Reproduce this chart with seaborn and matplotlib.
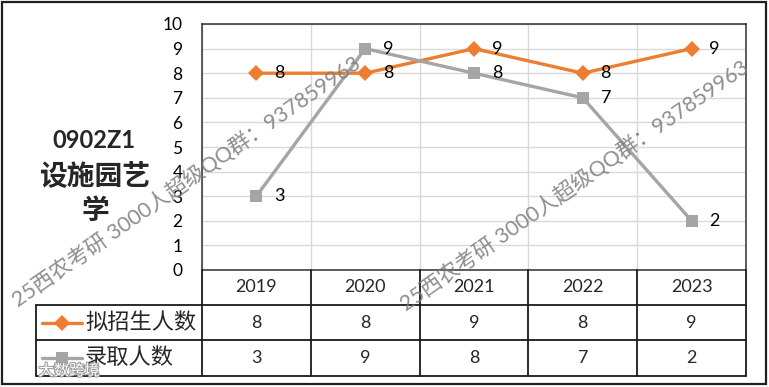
import numpy as np
import pandas as pd
import matplotlib
matplotlib.use('Agg')
import matplotlib.pyplot as plt
import seaborn as sns
from matplotlib.lines import Line2D
from matplotlib.patches import Rectangle
from matplotlib import transforms
import matplotlib.patheffects as pe

years = ['2019', '2020', '2021', '2022', '2023']
plan = [8, 8, 9, 8, 9]
admit = [3, 9, 8, 7, 2]
series_names = ['拟招生人数', '录取人数']
title_lines = ['0902Z1', '设施园艺', '学']
y_ticks = list(range(0, 11))
watermark = '25西农考研 3000人超级QQ群：937859963'
corner_mark = '大数跨境'

sns.set_theme(style='white')
plt.rcParams['font.family'] = ['Lato', 'Noto Sans CJK SC', 'DejaVu Sans']

W, H = 769, 387
fig = plt.figure(figsize=(W / 100, H / 100), dpi=100)
fig.patch.set_facecolor('white')


def fx(x):
    return x / W


def fy(y):
    return 1 - y / H


L, R, T, B = 202, 746, 24, 270
ax = fig.add_axes([fx(L), fy(B), fx(R) - fx(L), fy(T) - fy(B)])

df = pd.DataFrame({
    'pos': list(range(len(years))) * 2,
    'value': plan + admit,
    'series': [series_names[0]] * len(years) + [series_names[1]] * len(years),
})
colors = {series_names[0]: '#ED7D31', series_names[1]: '#A5A5A5'}
markers = {series_names[0]: 'D', series_names[1]: 's'}
sns.lineplot(data=df, x='pos', y='value', hue='series', style='series',
             markers=markers, dashes=False, palette=colors, linewidth=2.4,
             markersize=8, markeredgewidth=0, legend=False, ax=ax, zorder=3)

ax.set_xlim(-0.5, len(years) - 0.5)
ax.set_ylim(0, 10)
ax.set_yticks(y_ticks)
ax.set_xticks(np.arange(-0.5, len(years), 1))
ax.tick_params(axis='x', length=0, labelbottom=False)
ax.tick_params(axis='y', length=0, pad=14, labelsize=12.5, labelcolor='black')
ax.grid(True, color='#D9D9D9', linewidth=1)
ax.set_axisbelow(True)
ax.set_xlabel('')
ax.set_ylabel('')
for s in ax.spines.values():
    s.set_color('#303030')
    s.set_linewidth(1.1)

# data labels
for vals in (plan, admit):
    for i, v in enumerate(vals):
        ax.annotate(str(v), (i, v), xytext=(23, 0), textcoords='offset pixels',
                    ha='center', va='center', fontsize=13, color='black', zorder=5)

# data table
bt = transforms.blended_transform_factory(ax.transData, fig.transFigure)
row_top, row1, row2, row_bot = 270, 305, 340, 376
tab_left = 36
lc = '#1a1a1a'
for b in np.arange(-0.5, len(years), 1):
    fig.add_artist(Line2D([b, b], [fy(row_top), fy(row_bot)], transform=bt, color=lc, lw=1.3))
for yy in (row1, row2, row_bot):
    fig.add_artist(Line2D([fx(tab_left), fx(R)], [fy(yy), fy(yy)], transform=fig.transFigure, color=lc, lw=1.3))
fig.add_artist(Line2D([fx(tab_left), fx(tab_left)], [fy(row1), fy(row_bot)], transform=fig.transFigure, color=lc, lw=1.3))

for i, yr in enumerate(years):
    fig.text(i, fy((row_top + row1) / 2), yr, transform=bt, ha='center', va='center', fontsize=13)
    fig.text(i, fy((row1 + row2) / 2), str(plan[i]), transform=bt, ha='center', va='center', fontsize=13)
    fig.text(i, fy((row2 + row_bot) / 2), str(admit[i]), transform=bt, ha='center', va='center', fontsize=13)

for name, yy in zip(series_names, ((row1 + row2) / 2, (row2 + row_bot) / 2)):
    fig.add_artist(Line2D([fx(42), fx(82)], [fy(yy), fy(yy)], transform=fig.transFigure,
                          color=colors[name], lw=2.4))
    fig.add_artist(Line2D([fx(62)], [fy(yy)], transform=fig.transFigure, color=colors[name],
                          marker=markers[name], markersize=8, markeredgewidth=0, linestyle='none'))
    fig.text(fx(85), fy(yy), name, ha='left', va='center', fontsize=16)

# title on the left
fig.text(fx(94), fy(140), title_lines[0], ha='center', va='center', fontsize=17, weight='bold')
fig.text(fx(95), fy(176), title_lines[1], ha='center', va='center', fontsize=20, weight='bold')
fig.text(fx(95), fy(211), title_lines[2], ha='center', va='center', fontsize=20, weight='bold')

# watermarks
for cx, cy in ((186, 182), (574, 186)):
    fig.text(fx(cx), fy(cy), watermark, rotation=35, rotation_mode='anchor', ha='center',
             va='center', fontsize=15.5, color='#7a7a7a', alpha=0.85, zorder=10)
fig.text(fx(69), fy(371), corner_mark, ha='center', va='center', fontsize=11, color='white',
         zorder=10, path_effects=[pe.withStroke(linewidth=1.5, foreground='#9a9a9a')])

# outer border
fig.add_artist(Rectangle((fx(2), fy(384)), fx(766) - fx(2), fy(2) - fy(384), fill=False,
                         ec='#202020', lw=1.6, transform=fig.transFigure))

fig.savefig('out.png', dpi=100)
